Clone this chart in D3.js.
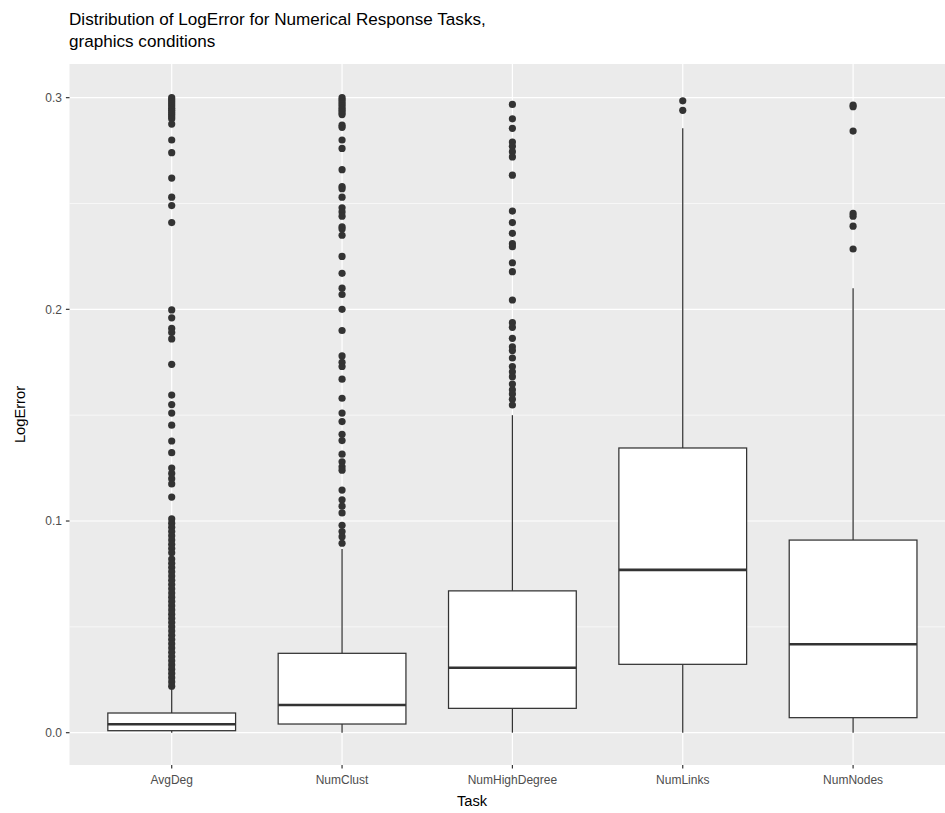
<!DOCTYPE html>
<html><head><meta charset="utf-8">
<script src="https://cdn.jsdelivr.net/npm/d3@7"></script>
<style>body{margin:0;background:#fff}svg{display:block}text{font-family:"Liberation Sans",Arial,sans-serif}</style>
</head><body>
<script>
const tasks = ["AvgDeg","NumClust","NumHighDegree","NumLinks","NumNodes"];
const q1 = [0.00095, 0.0041, 0.0115, 0.0323, 0.0071];
const medians = [0.0040, 0.0131, 0.0307, 0.0769, 0.0418];
const q3 = [0.0093, 0.0375, 0.0670, 0.1345, 0.0910];
const whiskerLow = [0, 0, 0, 0, 0];
const whiskerHigh = [0.0215, 0.0868, 0.1500, 0.2855, 0.2100];
const outAvgDeg = [0.300,0.299,0.298,0.297,0.296,0.295,0.294,0.293,0.292,0.291,0.290,0.2875,0.280,0.274,0.262,0.253,0.249,0.241,
  0.1997,0.196,0.191,0.189,0.186,0.174,0.1595,0.155,0.151,0.1453,0.1378,0.1323,0.125,0.1225,0.120,0.1175,0.1113,
  0.101,0.099,0.097,0.095,0.093,0.091,0.089,0.087,0.085,0.082,0.080,0.078,0.076,0.074,0.072,0.070,0.068,0.066,0.064,
  0.062,0.060,0.058,0.056,0.054,0.052,0.050,0.048,0.046,0.044,0.042,0.040,0.038,0.036,0.034,0.032,0.030,0.028,0.026,0.024,0.022];
const outNumClust = [0.300,0.299,0.298,0.297,0.296,0.295,0.294,0.293,0.292,0.287,0.286,0.280,0.276,0.266,0.258,0.257,0.253,0.248,0.246,0.244,
  0.239,0.238,0.235,0.225,0.217,0.210,0.207,0.200,0.190,0.178,0.175,0.173,0.167,0.158,0.151,0.147,0.141,0.138,0.1316,0.128,0.1256,0.124,
  0.1146,0.110,0.107,0.1038,0.098,0.095,0.0926,0.0895];
const outNumHighDegree = [0.2968,0.290,0.2855,0.279,0.277,0.2745,0.272,0.2634,0.2464,0.241,0.2359,0.231,0.2296,0.222,0.2178,0.2044,
  0.1937,0.1915,0.1863,0.1823,0.1805,0.177,0.173,0.1705,0.1682,0.1647,0.162,0.160,0.1575,0.1548];
const outNumLinks = [0.2985, 0.294];
const outNumNodes = [0.2965, 0.2957, 0.2842, 0.2453, 0.244, 0.2393, 0.2285];
const outliers = [outAvgDeg, outNumClust, outNumHighDegree, outNumLinks, outNumNodes];
const yTicks = [0.0, 0.1, 0.2, 0.3];
const yMinor = [0.05, 0.15, 0.25];

const W = 945, H = 813;
const svg = d3.select("body").append("svg").attr("width", W).attr("height", H);
const panel = {left: 69.5, right: 955.3, top: 64, bottom: 765};
const x = d3.scalePoint().domain(tasks).range([panel.left, panel.right]).padding(0.6);
const y = d3.scaleLinear().domain([-0.01526, 0.3159]).range([panel.bottom, panel.top]);
const step = x.step();
const bw = step * 0.75;

svg.append("rect").attr("x", panel.left).attr("y", panel.top)
  .attr("width", panel.right - panel.left).attr("height", panel.bottom - panel.top).attr("fill", "#ebebeb");
const g = svg.append("g");
g.selectAll(".minor").data(yMinor).join("line")
  .attr("x1", panel.left).attr("x2", panel.right).attr("y1", d => y(d)).attr("y2", d => y(d))
  .attr("stroke", "#fff").attr("stroke-width", 0.6);
g.selectAll(".major").data(yTicks).join("line")
  .attr("x1", panel.left).attr("x2", panel.right).attr("y1", d => y(d)).attr("y2", d => y(d))
  .attr("stroke", "#fff").attr("stroke-width", 1.2);
g.selectAll(".vmajor").data(tasks).join("line")
  .attr("x1", d => x(d)).attr("x2", d => x(d)).attr("y1", panel.top).attr("y2", panel.bottom)
  .attr("stroke", "#fff").attr("stroke-width", 1.2);

const col = "#333333";
tasks.forEach((t, i) => {
  const cx = x(t);
  g.append("line").attr("x1", cx).attr("x2", cx).attr("y1", y(q3[i])).attr("y2", y(whiskerHigh[i]))
    .attr("stroke", col).attr("stroke-width", 1.25);
  g.append("line").attr("x1", cx).attr("x2", cx).attr("y1", y(q1[i])).attr("y2", y(whiskerLow[i]))
    .attr("stroke", col).attr("stroke-width", 1.25);
  g.append("rect").attr("x", cx - bw/2).attr("width", bw).attr("y", y(q3[i]))
    .attr("height", y(q1[i]) - y(q3[i])).attr("fill", "#fff").attr("stroke", col).attr("stroke-width", 1.25);
  g.append("line").attr("x1", cx - bw/2).attr("x2", cx + bw/2).attr("y1", y(medians[i])).attr("y2", y(medians[i]))
    .attr("stroke", col).attr("stroke-width", 2.6);
  g.selectAll(null).data(outliers[i]).join("circle")
    .attr("cx", cx).attr("cy", d => y(d)).attr("r", 3.6).attr("fill", col);
});

const ya = svg.append("g");
ya.selectAll("line").data(yTicks).join("line")
  .attr("x1", panel.left - 3.6).attr("x2", panel.left).attr("y1", d => y(d)).attr("y2", d => y(d))
  .attr("stroke", col).attr("stroke-width", 1.2);
ya.selectAll("text").data(yTicks).join("text")
  .attr("x", panel.left - 7.5).attr("y", d => y(d)).attr("dy", "0.35em").attr("text-anchor", "end")
  .attr("font-size", 12).attr("fill", "#4d4d4d").text(d => d3.format(".1f")(d));
const xa = svg.append("g");
xa.selectAll("line").data(tasks).join("line")
  .attr("x1", d => x(d)).attr("x2", d => x(d)).attr("y1", panel.bottom).attr("y2", panel.bottom + 3.6)
  .attr("stroke", col).attr("stroke-width", 1.2);
xa.selectAll("text").data(tasks).join("text")
  .attr("x", d => x(d)).attr("y", 784).attr("text-anchor", "middle")
  .attr("font-size", 12).attr("fill", "#4d4d4d").text(d => d);

svg.append("text").attr("x", 472).attr("y", 806).attr("text-anchor", "middle")
  .attr("font-size", 14.7).attr("fill", "#000").text("Task");
svg.append("text").attr("transform", `translate(25,${(panel.top + panel.bottom) / 2}) rotate(-90)`)
  .attr("text-anchor", "middle").attr("font-size", 14.7).attr("fill", "#000").text("LogError");

svg.append("text").attr("x", 69).attr("y", 25).attr("font-size", 17.1).attr("fill", "#000")
  .text("Distribution of LogError for Numerical Response Tasks,");
svg.append("text").attr("x", 69).attr("y", 47).attr("font-size", 17.1).attr("fill", "#000")
  .text("graphics conditions");
</script>
</body></html>
